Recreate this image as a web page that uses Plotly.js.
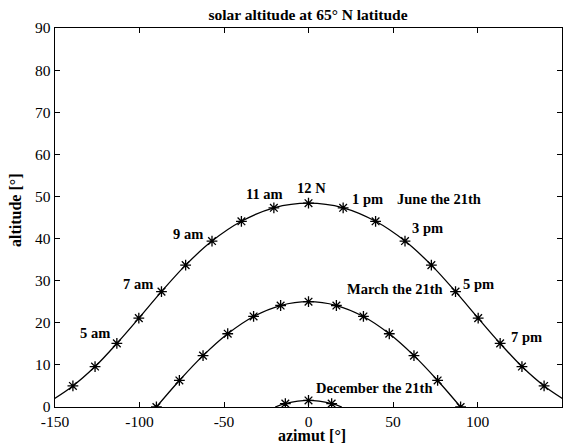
<!DOCTYPE html>
<html>
<head>
<meta charset="utf-8">
<script src="https://cdn.plot.ly/plotly-3.0.1.min.js"></script>
<style>html,body{margin:0;padding:0;background:#fff;}#chart{width:572px;height:445px;}</style>
</head>
<body>
<div id="chart"></div>
<script>
// June 21st: hourly points 3 am ... 9 pm
const juneAz  = [-139.4,-126.3,-113.4,-100.4,-87.0,-72.7,-57.1,-39.7,-20.5,0,20.5,39.7,57.1,72.7,87.0,100.4,113.4,126.3,139.4];
const juneAlt = [5.0,9.6,15.1,21.1,27.4,33.7,39.4,44.1,47.3,48.4,47.3,44.1,39.4,33.7,27.4,21.1,15.1,9.6,5.0];
// curve continues past the first/last marked hour (2 am / 10 pm)
const juneEdgeAz  = [-152.7, 152.7];
const juneEdgeAlt = [1.4, 1.4];

// March 21st: hourly points 6 am ... 6 pm
const marchAz  = [-90,-76.4,-62.4,-47.8,-32.5,-16.5,0,16.5,32.5,47.8,62.4,76.4,90];
const marchAlt = [0,6.3,12.2,17.4,21.5,24.1,25.0,24.1,21.5,17.4,12.2,6.3,0];

// December 21st: hourly points 11 am ... 1 pm, sunrise/sunset ends
const decAz  = [-13.7,0,13.7];
const decAlt = [0.8,1.55,0.8];
const decEdgeAz  = [-19.7, 19.7];
const decEdgeAlt = [0, 0];

// tick labels
const xTickVals = [-150,-100,-50,0,50,100,150];
const xTickText = ["-150","-100","-50","0","50","100","150"];
const yTickVals = [0,10,20,30,40,50,60,70,80,90];
const yTickText = ["0","10","20","30","40","50","60","70","80","90"];

// labels
const labelText = ["5 am","7 am","9 am","11 am","12 N","1 pm","June the 21th","3 pm","March the 21th","5 pm","7 pm","December the 21th"];
const labelX    = [-126.3,-100.8,-71.5,-26.3,1.6,35.0,77.2,70.4,50.9,100.7,128.8,39.1];
const labelY    = [17.6,29.2,41.2,50.6,52.0,49.4,49.4,42.5,28.0,29.2,16.6,4.5];

const serif = "Liberation Serif, Times New Roman, serif";

function lineTrace(az, alt){
  return {x: az, y: alt, type:'scatter', mode:'lines',
    line:{color:'#000', width:1.3, shape:'spline'}, hoverinfo:'skip', showlegend:false};
}
function markTrace(az, alt){
  return {x: az, y: alt, type:'scatter', mode:'markers',
    marker:{symbol:'asterisk-open', size:9, color:'#000', line:{color:'#000', width:1.3}},
    showlegend:false};
}

const juneLineX = [juneEdgeAz[0]].concat(juneAz, [juneEdgeAz[1]]);
const juneLineY = [juneEdgeAlt[0]].concat(juneAlt, [juneEdgeAlt[1]]);
const decLineX = [decEdgeAz[0]].concat(decAz, [decEdgeAz[1]]);
const decLineY = [decEdgeAlt[0]].concat(decAlt, [decEdgeAlt[1]]);

const data = [
  lineTrace(juneLineX, juneLineY), markTrace(juneAz, juneAlt),
  lineTrace(marchAz, marchAlt), markTrace(marchAz, marchAlt),
  lineTrace(decLineX, decLineY), markTrace(decAz, decAlt)
];

const annotations = labelText.map((t,i)=>({
  x: labelX[i], y: labelY[i], xref:'x', yref:'y', text: t, showarrow:false,
  xanchor:'center', yanchor:'middle',
  font:{family:serif, size:14.5, color:'#000', weight:'bold'}
}));
// axis titles
annotations.push({x:311.5, y:445-435, xref:'pixel', yref:'pixel', text:'azimut [°]', showarrow:false});
annotations.push({x:15, y:445-210, xref:'pixel', yref:'pixel', text:'altitude [°]', showarrow:false, textangle:-90});

const axisCommon = {
  showline:true, linecolor:'#000', linewidth:1.3, mirror:'ticks',
  ticks:'inside', ticklen:5, tickcolor:'#000', tickwidth:1,
  showgrid:false, zeroline:false, tickmode:'array',
  tickfont:{family:serif, size:15.5, color:'#000'}
};

// convert pixel-positioned axis-title annotations to paper coordinates
const M = {l:55, r:10, t:28, b:38};
const PW = 572 - M.l - M.r, PH = 445 - M.t - M.b;
annotations.forEach(a=>{
  if (a.xref==='pixel'){
    a.x = (a.x - M.l)/PW; a.y = (a.y - M.b)/PH;
    a.xref='paper'; a.yref='paper';
    a.xanchor='center'; a.yanchor='middle';
    a.font={family:serif, size:16, color:'#000', weight:'bold'};
  }
});

const layout = {
  width:572, height:445,
  margin:M,
  paper_bgcolor:'#fff', plot_bgcolor:'#fff',
  title:{text:'solar altitude at 65° N latitude', x:308/572, xanchor:'center', y:1-15/445, yanchor:'middle',
    font:{family:serif, size:15.5, color:'#000', weight:'bold'}},
  xaxis: Object.assign({}, axisCommon, {range:[-150,150], tickvals:xTickVals, ticktext:xTickText}),
  yaxis: Object.assign({}, axisCommon, {range:[0,90], tickvals:yTickVals, ticktext:yTickText}),
  annotations: annotations,
  showlegend:false
};

Plotly.newPlot('chart', data, layout, {displayModeBar:false, staticPlot:true});
</script>
</body>
</html>
